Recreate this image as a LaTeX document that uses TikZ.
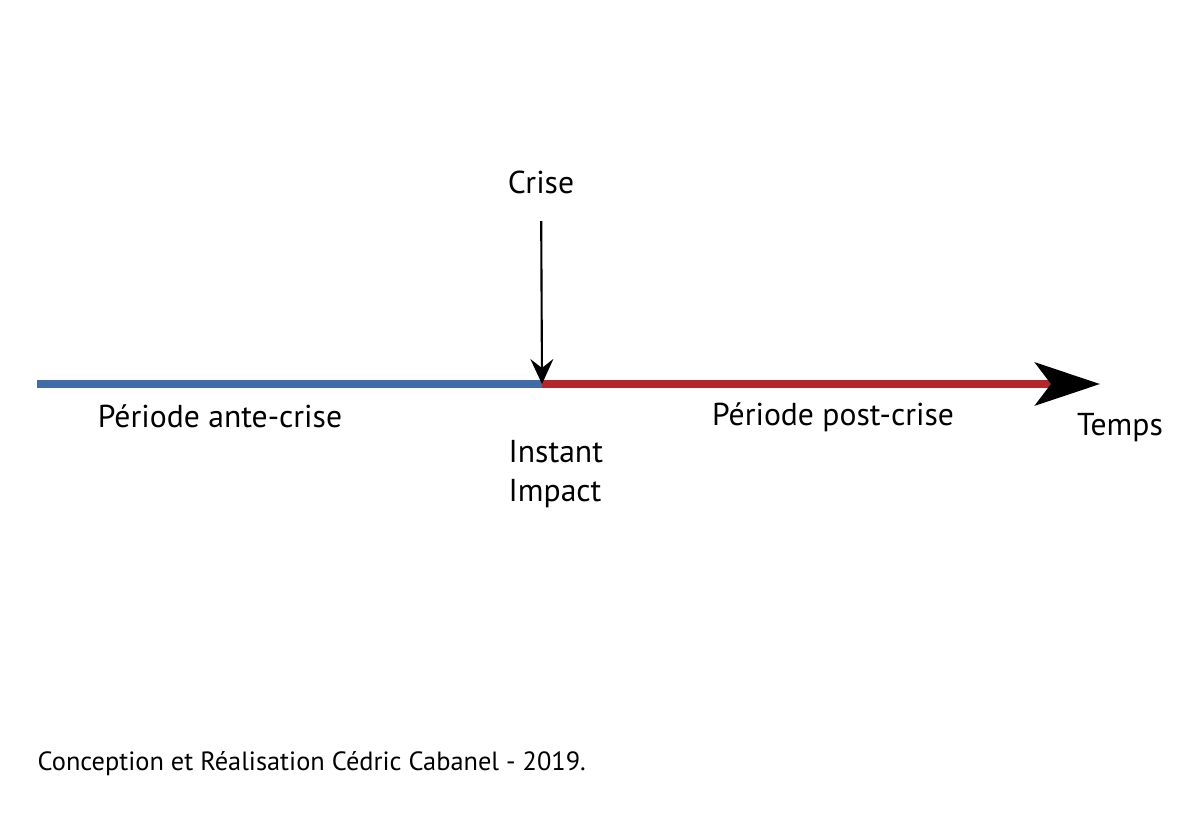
\documentclass[tikz,border=0pt]{standalone}
\usepackage{fontspec}
\setmainfont{PT Sans}
\usepackage{xcolor}
\usetikzlibrary{arrows.meta, positioning}
\definecolor{antebleu}{RGB}{66,108,168}
\definecolor{postrouge}{RGB}{178,38,44}

\begin{document}
\begin{tikzpicture}[
    x=0.01cm, y=-0.01cm,
    lbl/.style={font=\fontsize{9}{11}\selectfont, inner sep=0pt},
    periode/.style={line width=2pt},
    arr/.style={-{Stealth[length=2.5mm, width=2.3mm, inset=0.9mm]}, line width=0.6pt},
]
\useasboundingbox (0,0) rectangle (1186,839);
\coordinate (debut) at (37,384);
\coordinate (impact) at (542,384);
\coordinate (fin) at (1100,384);

\node[lbl] (crise) at (541,182) {Crise};
\node[lbl] (ante) at (220,416) {Période ante-crise};
\node[lbl] (post) at (833,417) {Période post-crise};
\node[lbl] (temps) at (1120,428) {Temps};
\node[lbl, anchor=north west, align=left] (instant) at (508,440) {Instant\\Impact};
\node[lbl, font=\fontsize{7.5}{9}\selectfont, anchor=west] (credit) at (37,764) {Conception et Réalisation Cédric Cabanel - 2019.};

\draw[periode, antebleu] (debut) -- (impact);
\draw[periode, postrouge, -{Stealth[color=black, length=6.5mm, width=4.3mm, inset=1.6mm]}] (impact) -- (fin);
\draw[arr, shorten <=0.27cm] (crise) -- (impact);
\end{tikzpicture}
\end{document}
